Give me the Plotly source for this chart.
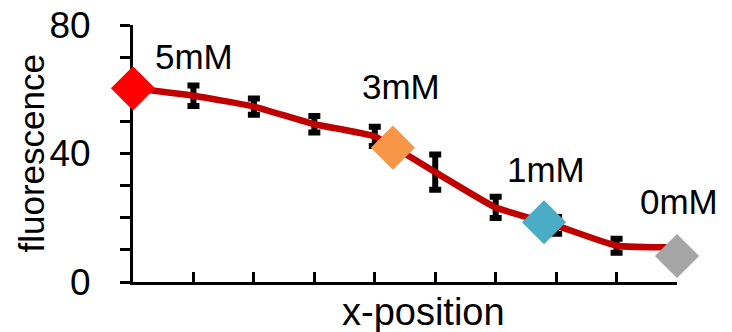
import plotly.graph_objects as go

# ---- data ----
positions = [0, 1, 2, 3, 4, 5, 6, 7, 8, 9]
fluorescence = [60.3, 58.0, 54.6, 49.1, 45.3, 34.2, 23.2, 17.6, 11.3, 10.8]

err_positions = [1, 2, 3, 4, 5, 6, 7, 8]
err_means = [58.0, 54.6, 49.1, 45.3, 34.2, 23.2, 17.6, 11.3]
err_sizes = [3.2, 2.5, 2.6, 3.0, 5.5, 3.3, 2.6, 2.2]

conc_labels = ["5mM", "3mM", "1mM", "0mM"]
conc_x = [0, 4.3, 6.8, 9]
conc_y = [60.3, 41.8, 18.6, 8.1]
conc_colors = ["#FF0000", "#F79646", "#4BACC6", "#A5A5A5"]

y_tick_vals = [0, 40, 80]

# label offsets (px) relative to each diamond
label_dx = [61, 8, 2, 2]
label_dy = [32, 61, 53, 54]

FONT = "Liberation Sans, Arial, sans-serif"
fig = go.Figure()

# error bars (drawn beneath the line)
fig.add_trace(go.Scatter(
    x=err_positions, y=err_means, mode="markers",
    marker=dict(size=1, color="rgba(0,0,0,0)"),
    error_y=dict(type="data", array=err_sizes, visible=True,
                 color="black", thickness=6, width=6),
    showlegend=False, hoverinfo="skip", cliponaxis=False,
))

# smoothed line
fig.add_trace(go.Scatter(
    x=positions, y=fluorescence, mode="lines",
    line=dict(color="#C00000", width=6.5, shape="spline", smoothing=0.4),
    showlegend=False, cliponaxis=False,
))

# concentration diamonds
fig.add_trace(go.Scatter(
    x=conc_x, y=conc_y, mode="markers",
    marker=dict(symbol="diamond", size=34, color=conc_colors,
                line=dict(width=0)),
    showlegend=False, cliponaxis=False,
))

for lab, x, y, dx, dy in zip(conc_labels, conc_x, conc_y, label_dx, label_dy):
    fig.add_annotation(x=x, y=y, text=lab, showarrow=False,
                       xshift=dx, yshift=dy, xanchor="center", yanchor="middle",
                       font=dict(family=FONT, size=35, color="black"))

# axis titles
fig.add_annotation(xref="paper", yref="paper", x=0, y=0.5, xshift=-102,
                   text="fluorescence", textangle=-90, showarrow=False,
                   xanchor="center", yanchor="middle",
                   font=dict(family=FONT, size=35, color="black"))
fig.add_annotation(xref="paper", yref="paper", x=0.5, y=0, xshift=18, yshift=-30,
                   text="x-position", showarrow=False,
                   xanchor="center", yanchor="middle",
                   font=dict(family=FONT, size=38, color="black"))

fig.update_xaxes(range=[0, 9], showline=True, linecolor="black", linewidth=3,
                 ticks="inside", tickvals=list(range(0, 9)), ticklen=10,
                 tickwidth=3, tickcolor="black", showticklabels=False,
                 showgrid=False, zeroline=False, fixedrange=True,
                 layer="below traces", automargin=False)
fig.update_yaxes(range=[0, 80], showline=True, linecolor="black", linewidth=3,
                 ticks="outside", tickvals=y_tick_vals, ticklen=10, tickwidth=3,
                 tickcolor="black",
                 minor=dict(dtick=10, ticks="outside", ticklen=10, tickwidth=3,
                            tickcolor="black", showgrid=False),
                 tickfont=dict(family=FONT, size=37, color="black"),
                 ticklabelstandoff=22,
                 showgrid=False, zeroline=False, fixedrange=True,
                 layer="below traces", automargin=False)

fig.update_layout(width=732, height=332,
                  margin=dict(l=133, r=55, t=25, b=50),
                  plot_bgcolor="white", paper_bgcolor="white")

fig.write_html("out.html")
